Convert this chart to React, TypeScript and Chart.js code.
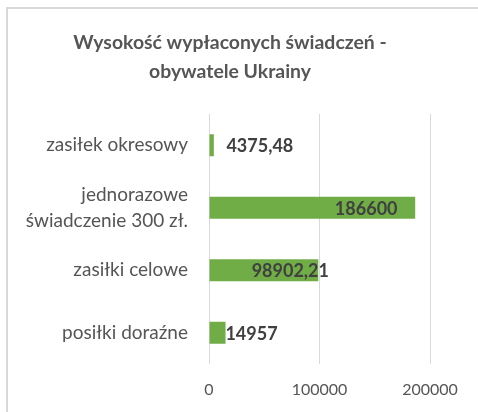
import React, { useEffect, useRef } from "react";
import { Chart, registerables } from "chart.js";

Chart.register(...registerables);

const categories: (string | string[])[] = [
  "zasiłek okresowy",
  ["jednorazowe", "świadczenie 300 zł."],
  "zasiłki celowe",
  "posiłki doraźne",
];
const values = [4375.48, 186600, 98902.21, 14957];
const titleLines = ["Wysokość wypłaconych świadczeń -", "obywatele Ukrainy"];
const xTicks = [0, 100000, 200000];

// horizontal shift of each value label's centre relative to the bar end (px)
const labelShift = [46, -49, -28, 26];

const FONT = "Lato, 'Open Sans', sans-serif";

export default function App() {
  const ref = useRef<HTMLCanvasElement | null>(null);

  useEffect(() => {
    document.body.style.margin = "0";
    const canvas = ref.current;
    if (!canvas) return;

    const titlePlugin = {
      id: "customTitle",
      afterDraw(chart: any) {
        const ctx = chart.ctx;
        ctx.save();
        ctx.fillStyle = "#555555";
        ctx.font = `bold 19.4px ${FONT}`;
        ctx.textAlign = "center";
        ctx.textBaseline = "middle";
        ctx.fillText(titleLines[0], 230, 43);
        ctx.fillText(titleLines[1], 230, 72);
        ctx.restore();
      },
    };

    const labelPlugin = {
      id: "valueLabels",
      afterDatasetsDraw(chart: any) {
        const ctx = chart.ctx;
        const meta = chart.getDatasetMeta(0);
        ctx.save();
        ctx.fillStyle = "#404040";
        ctx.font = `bold 18px ${FONT}`;
        ctx.textAlign = "center";
        ctx.textBaseline = "middle";
        meta.data.forEach((bar: any, i: number) => {
          const txt = String(values[i]).replace(".", ",");
          ctx.fillText(txt, bar.x + labelShift[i], bar.y + 1);
        });
        ctx.restore();
      },
    };

    const chart = new Chart(canvas, {
      type: "bar",
      data: {
        labels: categories,
        datasets: [
          {
            data: values,
            backgroundColor: "#70AD47",
            borderWidth: 0,
            barPercentage: 0.352,
            categoryPercentage: 1,
          },
        ],
      },
      options: {
        indexAxis: "y",
        responsive: false,
        animation: false,
        layout: { padding: { top: 114, right: 48, bottom: 0, left: 0 } },
        plugins: {
          legend: { display: false },
          title: { display: false },
          tooltip: { enabled: false },
        },
        scales: {
          x: {
            min: 0,
            max: 200000,
            afterBuildTicks: (s: any) => {
              s.ticks = xTicks.map((v) => ({ value: v }));
            },
            afterFit: (s: any) => {
              s.height = 48;
            },
            grid: { color: "#d9d9d9", lineWidth: 1, drawTicks: false },
            border: { display: false },
            ticks: {
              color: "#555555",
              font: { family: FONT, size: 16 },
              padding: 16,
              callback: (v: any) => String(v),
            },
          },
          y: {
            afterFit: (s: any) => {
              s.width = 209;
            },
            grid: { display: false, drawTicks: false },
            border: { display: false },
            ticks: {
              color: "#555555",
              font: { family: FONT, size: 19, lineHeight: 1.35 },
              padding: 21,
            },
          },
        },
      },
      plugins: [titlePlugin, labelPlugin],
    });

    return () => chart.destroy();
  }, []);

  return (
    <div style={{ position: "relative", width: 478, height: 412, background: "#fff", overflow: "hidden" }}>
      <div
        style={{
          position: "absolute",
          left: 6,
          top: 7,
          width: 480,
          height: 420,
          borderTop: "2px solid #d9d9d9",
          borderLeft: "2px solid #d9d9d9",
          boxSizing: "border-box",
        }}
      />
      <canvas ref={ref} width={478} height={412} style={{ position: "absolute", left: 0, top: 0, display: "block" }} />
    </div>
  );
}
